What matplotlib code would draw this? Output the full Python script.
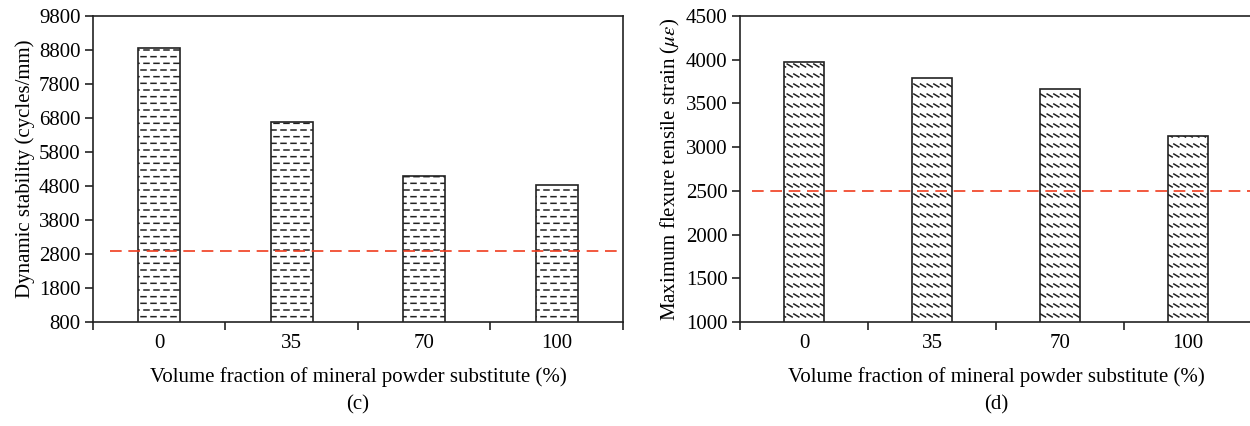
import matplotlib
matplotlib.use("Agg")
import matplotlib.pyplot as plt
import numpy as np
from matplotlib import hatch as mhatch
from matplotlib.path import Path

# ---------------- data ----------------
categories = ["0", "35", "70", "100"]
dynamic_stability = [8870, 6670, 5100, 4840]
stability_ticks = [800, 1800, 2800, 3800, 4800, 5800, 6800, 7800, 8800, 9800]
stability_limit = 2900

flexure_strain = [3970, 3790, 3665, 3125]
strain_ticks = [1000, 1500, 2000, 2500, 3000, 3500, 4000, 4500]
strain_limit = 2500

xlabel = "Volume fraction of mineral powder substitute (%)"
ylabel_c = "Dynamic stability (cycles/mm)"
ylabel_d = r"Maximum flexure tensile strain ($\mu\varepsilon$)"


# ---------------- custom hatch patterns ----------------
class DashRows(mhatch.HatchPatternBase):
    """Rows of short horizontal dashes (used for '-')."""
    def __init__(self, hatch, density):
        self.rows = 15 if hatch.count('-') else 0
        self.cols = 10
        self.num_vertices = self.rows * self.cols * 2

    def set_vertices_and_codes(self, vertices, codes):
        k = 0
        for i in range(self.rows):
            y = (i + 0.5) / self.rows
            off = 0.03 if i % 2 else 0.0
            for j in range(self.cols):
                x0 = j / self.cols + off + 0.01
                vertices[k] = (x0, y)
                vertices[k + 1] = (x0 + 0.05, y)
                codes[k] = Path.MOVETO
                codes[k + 1] = Path.LINETO
                k += 2


class StepRows(mhatch.HatchPatternBase):
    """Rows of short backslash marks (used for '\\')."""
    def __init__(self, hatch, density):
        self.rows = 10 if hatch.count('\\') else 0
        self.cols = 15
        self.num_vertices = self.rows * self.cols * 2

    def set_vertices_and_codes(self, vertices, codes):
        k = 0
        for i in range(self.rows):
            y = (i + 0.3) / self.rows
            for j in range(self.cols):
                x0 = j / self.cols + 0.005
                vertices[k] = (x0, y + 0.03)
                vertices[k + 1] = (x0 + 0.05, y)
                codes[k] = Path.MOVETO
                codes[k + 1] = Path.LINETO
                k += 2


mhatch._hatch_types = [DashRows, StepRows]

plt.rcParams['font.family'] = ['Liberation Serif', 'DejaVu Serif']
plt.rcParams['mathtext.fontset'] = 'stix'
plt.rcParams['hatch.linewidth'] = 1.1
plt.rcParams['hatch.color'] = '#222222'

FS = 15
edge = '#222222'
red = '#f03c1e'

fig = plt.figure(figsize=(12.5, 4.26), dpi=100)
ax1 = fig.add_axes([93 / 1250, 104 / 426, 530 / 1250, 306 / 426])
ax2 = fig.add_axes([740 / 1250, 104 / 426, 512 / 1250, 306 / 426])

x = np.arange(len(categories))


def style(ax, ticks, ylab):
    ax.set_xlim(-0.5, len(categories) - 0.5)
    ax.set_ylim(ticks[0], ticks[-1])
    ax.set_yticks(ticks)
    ax.set_yticklabels([str(t) for t in ticks], fontsize=FS)
    ax.set_xticks(x)
    ax.set_xticklabels(categories, fontsize=FS)
    ax.set_xticks(np.arange(-0.5, len(categories)), minor=True)
    ax.tick_params(axis='x', which='major', length=0, pad=9)
    ax.tick_params(axis='x', which='minor', length=6, width=1.2, direction='out', color=edge)
    ax.tick_params(axis='y', length=6, width=1.2, direction='out', color=edge, pad=3)
    for s in ax.spines.values():
        s.set_linewidth(1.2)
        s.set_color(edge)
    ax.set_xlabel(xlabel, fontsize=FS, labelpad=10)
    ax.set_ylabel(ylab, fontsize=FS, labelpad=3)


ax1.bar(x, dynamic_stability, width=0.32, bottom=0, color='white',
        edgecolor=edge, linewidth=1.2, hatch='-', zorder=2)
ax1.hlines(stability_limit, -0.37, 3.455, colors=red, linestyles=(0, (7, 4)),
           linewidth=1.2, zorder=3)
style(ax1, stability_ticks, ylabel_c)

ax2.bar(x, flexure_strain, width=0.31, color='white',
        edgecolor=edge, linewidth=1.2, hatch='\\', zorder=2)
ax2.hlines(strain_limit, -0.41, 3.5, colors=red, linestyles=(0, (7, 4)),
           linewidth=1.2, zorder=3)
style(ax2, strain_ticks, ylabel_d)

fig.text(358 / 1250, 1 - 405 / 426, "(c)", ha='center', va='center', fontsize=FS)
fig.text(996 / 1250, 1 - 405 / 426, "(d)", ha='center', va='center', fontsize=FS)

fig.savefig("out.png", dpi=100)
